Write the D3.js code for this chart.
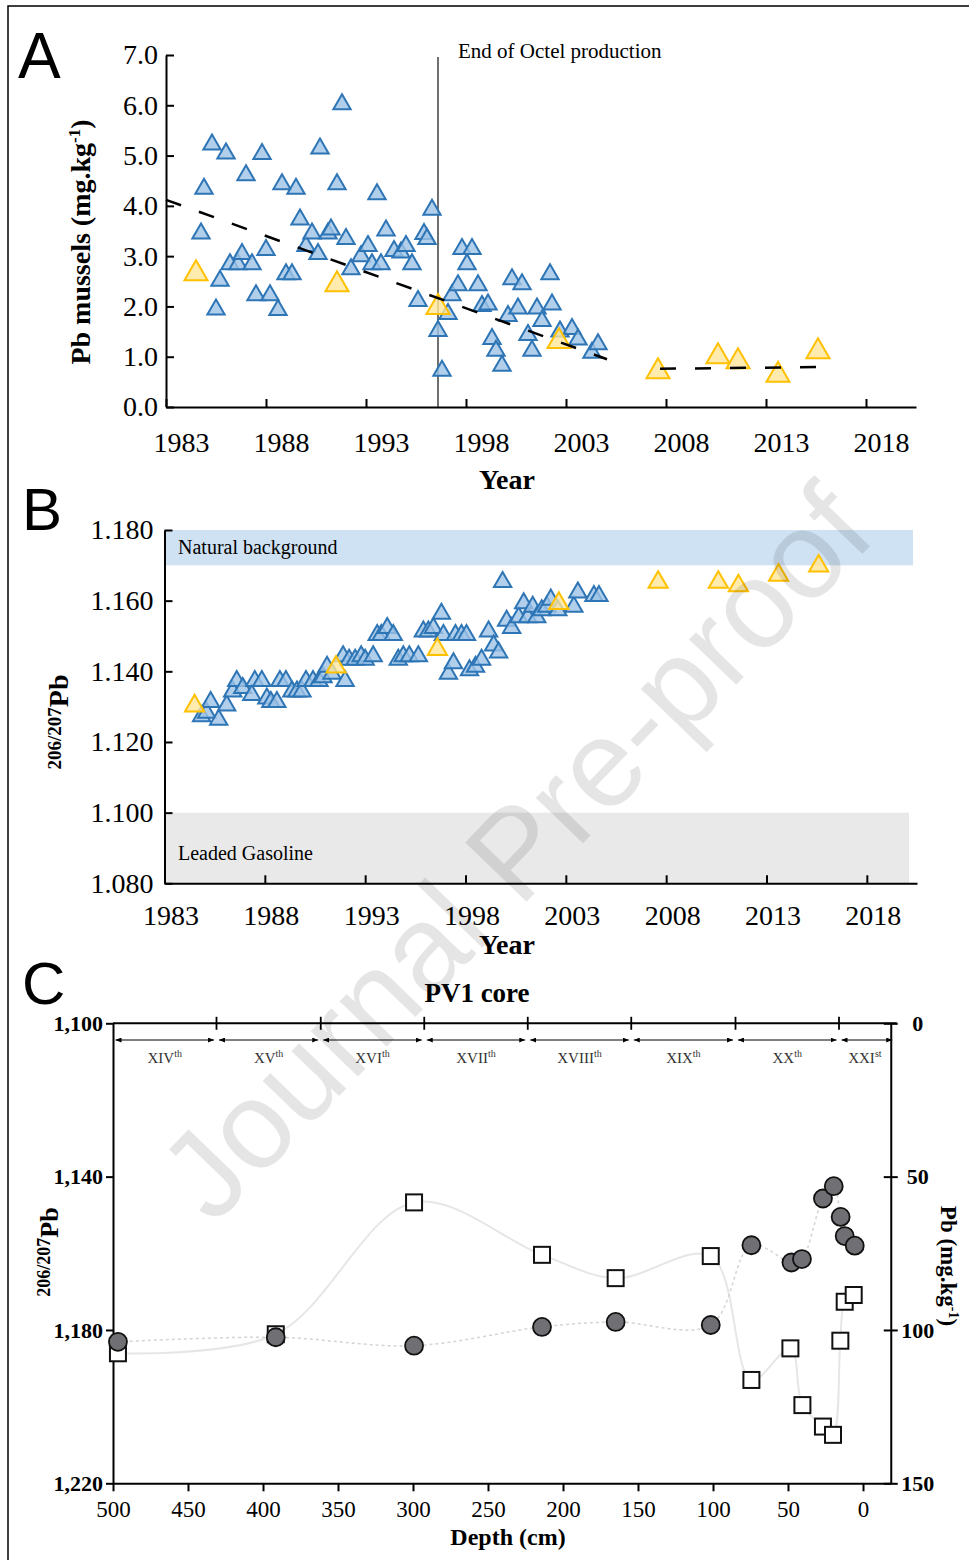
<!DOCTYPE html>
<html><head><meta charset="utf-8">
<script src="https://cdn.jsdelivr.net/npm/d3@7"></script>
<style>body{margin:0;background:#fff}</style>
</head><body><svg id="c" width="969" height="1560"></svg>
<script>
// ---------- DATA ----------
// Panel A: Pb in mussels (mg/kg)
const yearsA_blue = [1984.75,1984.9,1985.3,1985.5,1985.7,1986.0,1986.2,1986.6,1986.8,1987.0,
  1987.3,1987.5,1987.8,1988.0,1988.2,1988.6,1988.8,1989.0,1989.3,1989.5,
  1989.7,1990.0,1990.3,1990.6,1990.7,1991.1,1991.25,1991.55,1991.8,1992.0,
  1992.25,1992.75,1993.1,1993.3,1993.55,1993.75,1994.0,1994.4,1994.75,1995.0,
  1995.3,1995.6,1995.9,1996.05,1996.3,1996.6,1996.8,1997.1,1997.3,1997.6,
  1997.8,1998.05,1998.3,1998.6,1998.8,1999.1,1999.3,1999.5,1999.8,2000.1,
  2000.3,2000.6,2000.8,2001.1,2001.3,2001.55,2001.8,2002.2,2002.3,2002.7,
  2003.3,2003.6,2004.3,2004.6];
const pbA_blue = [3.50,4.39,5.27,1.99,2.56,5.09,2.89,2.89,3.09,4.66,
  2.89,2.27,5.08,3.17,2.27,1.98,4.48,2.69,2.69,4.39,
  3.78,3.25,3.50,3.09,5.19,3.50,3.58,4.48,6.07,3.39,
  2.79,3.05,3.25,2.89,4.28,2.89,3.56,3.15,3.12,3.25,
  2.89,2.16,3.49,3.39,3.97,1.56,0.77,1.90,2.27,2.47,
  3.19,2.89,3.19,2.47,2.06,2.09,1.40,1.17,0.87,1.86,
  2.59,2.01,2.49,1.48,1.17,2.01,1.76,2.69,2.09,1.55,
  1.60,1.39,1.13,1.30];
const yearsYellow = [1984.5,1991.55,1996.6,2002.65,2007.6,2010.6,2011.6,2013.6,2015.6];
const pbA_yellow = [2.72,2.50,2.05,1.37,0.77,1.07,0.97,0.70,1.17];
const trend1Years = [1983, 2005.05], trend1Vals = [4.12, 0.95];
const trend2Years = [2007.7, 2015.85], trend2Vals = [0.76, 0.795];
const octelYear = 1996.6;
const yTicksA = [0,1,2,3,4,5,6,7];
const xTicksYear = [1983,1988,1993,1998,2003,2008,2013,2018];

// Panel B: 206/207Pb in mussels
const yearsB_blue = [1984.85,1985.1,1985.3,1985.7,1986.1,1986.4,1986.6,1986.9,1987.35,1987.5,
  1987.85,1988.1,1988.3,1988.6,1988.75,1989.05,1989.35,1989.6,1989.85,1990.05,
  1990.4,1990.7,1990.9,1991.1,1991.35,1991.9,1992.0,1992.2,1992.5,1992.8,
  1993.0,1993.4,1993.6,1993.8,1994.1,1994.4,1994.65,1994.9,1995.2,1995.65,
  1995.9,1996.15,1996.4,1996.8,1996.9,1997.15,1997.4,1997.5,1997.8,1998.05,
  1998.2,1998.5,1998.8,1999.15,1999.4,1999.65,1999.85,2000.05,2000.3,2000.65,
  2000.9,2001.1,2001.35,2001.55,2001.8,2002.05,2002.25,2002.6,2003.4,2003.6,
  2004.4,2004.65];
const ratioB_blue = [1.128,1.129,1.132,1.127,1.131,1.135,1.138,1.136,1.134,1.138,
  1.138,1.133,1.132,1.132,1.138,1.138,1.135,1.135,1.135,1.138,
  1.138,1.138,1.139,1.142,1.140,1.145,1.138,1.144,1.144,1.145,
  1.144,1.145,1.151,1.151,1.153,1.151,1.144,1.145,1.145,1.145,
  1.152,1.152,1.153,1.157,1.151,1.140,1.143,1.151,1.151,1.151,
  1.141,1.142,1.144,1.152,1.148,1.146,1.166,1.155,1.153,1.156,
  1.160,1.156,1.159,1.156,1.158,1.159,1.161,1.158,1.159,1.163,
  1.162,1.162];
const ratioB_yellow = [1.131,1.142,1.147,1.160,1.166,1.166,1.165,1.168,1.1706];
const yTicksB = [1.08,1.10,1.12,1.14,1.16,1.18];
const bands = [
  {name:"Natural background", lo:1.17, hi:1.18, end:2020.3, color:"#cfe2f3"},
  {name:"Leaded Gasoline", lo:1.08, hi:1.10, end:2020.1, color:"#e9e9e9"}
];

// Panel C: PV1 core
const circleDepth = [496.7,391.5,299.3,214,164.9,101.5,74.4,47.7,40.7,26.7,19.5,14.9,12.2,5.5];
const circleRatio = [1.1831,1.1819,1.1841,1.1792,1.1779,1.1787,1.1579,1.1624,1.1615,1.1457,1.1425,1.1505,1.1555,1.1580];
const squareDepth = [496.7,391.5,299.3,214,164.9,101.5,74.4,48.4,40.4,26.7,20,15.1,12.2,6.2];
const squarePb = [107.6,101.4,58.4,75.5,83.1,75.9,116.3,106,124.5,131.5,134.2,103.5,90.8,88.6];
const depthTicks = [500,450,400,350,300,250,200,150,100,50,0];
const ratioTicksC = [1.10,1.14,1.18,1.22];
const pbTicksC = [0,50,100,150];
const centuryBounds = [500,431,361.5,292.5,223.5,154.5,85,16,-18.5];
const centuries = ["XIV","XV","XVI","XVII","XVIII","XIX","XX","XXI"];
const centurySuffix = ["th","th","th","th","th","th","th","st"];

// ---------- DRAW ----------
const SERIF = "'Liberation Serif','Times New Roman',serif";
const SANS = "'Liberation Sans',Arial,sans-serif";
const svg = d3.select("#c");
svg.append("rect").attr("width",969).attr("height",1560).attr("fill","#fff");
svg.append("path").attr("d","M8,1560V6H969").attr("fill","none").attr("stroke","#000").attr("stroke-width",1.5);

const BLUE_S="#2e75b6", BLUE_F="#9dc3e6", YEL_S="#ffc000", YEL_F="#ffe699";
function tri(g, xs, ys, xsc, ysc, size, stroke, fill){
  const a = Math.sqrt(size/(3*Math.sqrt(3)));
  const sym = d3.symbol().type(d3.symbolTriangle).size(size);
  g.selectAll(null).data(xs.map((x,i)=>[x,ys[i]])).enter().append("path")
    .attr("d", sym)
    .attr("transform", d=>`translate(${xsc(d[0])},${ysc(d[1])+a/2})`)
    .attr("fill", fill).attr("fill-opacity",0.8)
    .attr("stroke", stroke).attr("stroke-width",2).attr("stroke-linejoin","miter");
}
function styleAxis(g, size, bold){
  g.select(".domain").attr("stroke","#000").attr("stroke-width",2);
  g.selectAll(".tick line").attr("stroke","#000").attr("stroke-width",2);
  g.selectAll("text").attr("font-family",SERIF).attr("font-size",size).attr("fill","#000")
    .attr("font-weight", bold?"bold":"normal");
}

// ---- Panel A ----
const xA = d3.scaleLinear().domain([1983,2020.5]).range([166,916]);
const yA = d3.scaleLinear().domain([0,7]).range([407,55]);
const gA = svg.append("g");
const axAy = gA.append("g").attr("transform",`translate(${xA(1983)},0)`)
  .call(d3.axisLeft(yA).tickValues(yTicksA).tickFormat(d3.format(".1f")).tickSize(-8).tickSizeOuter(0).tickPadding(8));
styleAxis(axAy,28,false);
const axAx = gA.append("g").attr("transform",`translate(0,${yA(0)})`)
  .call(d3.axisBottom(xA).tickValues(xTicksYear).tickFormat(d3.format("d")).tickSize(-8).tickSizeOuter(0).tickPadding(25));
styleAxis(axAx,28,false);
axAx.selectAll("text").attr("dx",15);
gA.append("line").attr("x1",xA(octelYear)).attr("x2",xA(octelYear)).attr("y1",yA(7)+2).attr("y2",yA(0))
  .attr("stroke","#222").attr("stroke-width",1.3);
gA.append("text").attr("x",xA(octelYear)+20).attr("y",58).attr("font-family",SERIF).attr("font-size",21)
  .text("End of Octel production");
tri(gA, yearsA_blue, pbA_blue, xA, yA, 130, BLUE_S, BLUE_F);
tri(gA, yearsYellow, pbA_yellow, xA, yA, 230, YEL_S, YEL_F);
const lineA = d3.line().x(d=>xA(d[0])).y(d=>yA(d[1]));
[[trend1Years,trend1Vals],[trend2Years,trend2Vals]].forEach(([ys,vs])=>{
  gA.append("path").attr("d", lineA(ys.map((y,i)=>[y,vs[i]])))
    .attr("fill","none").attr("stroke","#000").attr("stroke-width",2.5).attr("stroke-dasharray","16,19");
});
const labA = gA.append("text").attr("transform","translate(90,242) rotate(-90)").attr("text-anchor","middle")
  .attr("font-family",SERIF).attr("font-size",28).attr("font-weight","bold");
labA.append("tspan").text("Pb mussels (mg.kg");
labA.append("tspan").attr("font-size",17).attr("dy",-10).text("-1");
labA.append("tspan").attr("dy",10).text(")");
gA.append("text").attr("x",507).attr("y",489).attr("text-anchor","middle").attr("font-family",SERIF)
  .attr("font-size",28).attr("font-weight","bold").text("Year");
svg.append("text").attr("x",18).attr("y",78).attr("font-family",SANS).attr("font-size",64).text("A");

// ---- Panel B ----
const xB = d3.scaleLinear().domain([1983,2020.5]).range([164.5,917]);
const yB = d3.scaleLinear().domain([1.08,1.18]).range([883.3,530]);
const gB = svg.append("g");
bands.forEach(b=>{
  gB.append("rect").attr("x",xB(1983)).attr("y",yB(b.hi)).attr("width",xB(b.end)-xB(1983))
    .attr("height",yB(b.lo)-yB(b.hi)).attr("fill",b.color);
});
gB.append("text").attr("x",178).attr("y",554).attr("font-family",SERIF).attr("font-size",20).text(bands[0].name);
gB.append("text").attr("x",178).attr("y",860).attr("font-family",SERIF).attr("font-size",20).text(bands[1].name);
const axBy = gB.append("g").attr("transform",`translate(${xB(1983)},0)`)
  .call(d3.axisLeft(yB).tickValues(yTicksB).tickFormat(d3.format(".3f")).tickSize(-8).tickSizeOuter(0).tickPadding(11));
styleAxis(axBy,28,false);
const axBx = gB.append("g").attr("transform",`translate(0,${yB(1.08)})`)
  .call(d3.axisBottom(xB).tickValues(xTicksYear).tickFormat(d3.format("d")).tickSize(-8).tickSizeOuter(0).tickPadding(22));
styleAxis(axBx,28,false);
axBx.selectAll("text").attr("dx",6);
tri(gB, yearsB_blue, ratioB_blue, xB, yB, 130, BLUE_S, BLUE_F);
tri(gB, yearsYellow, ratioB_yellow, xB, yB, 160, YEL_S, YEL_F);
const labB = gB.append("text").attr("transform","translate(68,722) rotate(-90)").attr("text-anchor","middle")
  .attr("font-family",SERIF).attr("font-weight","bold");
labB.append("tspan").attr("font-size",19).attr("dy",-7).text("206/207");
labB.append("tspan").attr("font-size",28).attr("dy",7).text("Pb");
gB.append("text").attr("x",507).attr("y",954).attr("text-anchor","middle").attr("font-family",SERIF)
  .attr("font-size",28).attr("font-weight","bold").text("Year");
svg.append("text").attr("x",22).attr("y",530).attr("font-family",SANS).attr("font-size",60).text("B");

// ---- Panel C ----
const xC = d3.scaleLinear().domain([500,-18.5]).range([113,890.75]);
const yC = d3.scaleLinear().domain([1.10,1.22]).range([1023.3,1483.3]);
const yPb = d3.scaleLinear().domain([0,150]).range([1023.3,1483.3]);
const gC = svg.append("g");
const commaFmt = v=>d3.format(".3f")(v).replace(".",",");
const axCx = gC.append("g").attr("transform",`translate(0,${yC(1.22)})`)
  .call(d3.axisBottom(xC).tickValues(depthTicks).tickSize(8).tickSizeOuter(0).tickPadding(9));
styleAxis(axCx,23,false);
const axCy = gC.append("g").attr("transform",`translate(${xC(500)},0)`)
  .call(d3.axisLeft(yC).tickValues(ratioTicksC).tickFormat(commaFmt).tickSize(7).tickSizeOuter(0).tickPadding(3));
styleAxis(axCy,22,true);
const axCr = gC.append("g").attr("transform",`translate(${xC(-18.5)},0)`)
  .call(d3.axisRight(yPb).tickValues(pbTicksC).tickSize(7).tickSizeOuter(0).tickPadding(20));
styleAxis(axCr,22,true);
axCr.selectAll(".tick line").attr("x1",-7);
axCr.selectAll("text").attr("text-anchor","middle").attr("x",27);
// top line
gC.append("line").attr("x1",xC(500)).attr("x2",xC(-18.5)+6).attr("y1",yC(1.10)).attr("y2",yC(1.10))
  .attr("stroke","#000").attr("stroke-width",2);
gC.selectAll(null).data(centuryBounds.slice(1,-1)).enter().append("line")
  .attr("x1",d=>xC(d)).attr("x2",d=>xC(d)).attr("y1",yC(1.10)-6.5).attr("y2",yC(1.10)+6.5)
  .attr("stroke","#000").attr("stroke-width",1.8);
const defs = svg.append("defs");
defs.append("marker").attr("id","ah").attr("viewBox","0 0 6 5").attr("refX",6).attr("refY",2.5)
  .attr("markerWidth",6).attr("markerHeight",5).attr("markerUnits","userSpaceOnUse")
  .attr("orient","auto-start-reverse").append("path").attr("d","M0,0L6,2.5L0,5z").attr("fill","#000");
centuries.forEach((c,i)=>{
  const x1 = xC(centuryBounds[i])+2.5, x2 = xC(centuryBounds[i+1])-2.5 + (i===centuries.length-1?4:0);
  gC.append("line").attr("x1",x1).attr("x2",x2).attr("y1",1040).attr("y2",1040)
    .attr("stroke","#000").attr("stroke-width",1).attr("marker-start","url(#ah)").attr("marker-end","url(#ah)");
  const t = gC.append("text").attr("x",(xC(centuryBounds[i])+xC(centuryBounds[i+1]))/2).attr("y",1063)
    .attr("text-anchor","middle").attr("font-family",SERIF).attr("font-size",15).attr("fill","#333");
  t.append("tspan").text(c);
  t.append("tspan").attr("font-size",10).attr("dy",-6).text(centurySuffix[i]);
});
gC.append("text").attr("x",477).attr("y",1002).attr("text-anchor","middle").attr("font-family",SERIF)
  .attr("font-size",27).attr("font-weight","bold").text("PV1 core");
// connecting lines
const sqLine = d3.line().curve(d3.curveCatmullRom).x(d=>xC(d[0])).y(d=>yPb(d[1]));
gC.append("path").attr("d", sqLine(squareDepth.map((d,i)=>[d,squarePb[i]])))
  .attr("fill","none").attr("stroke","#e6e6e6").attr("stroke-width",2);
const ciLine = d3.line().curve(d3.curveCatmullRom).x(d=>xC(d[0])).y(d=>yC(d[1]));
gC.append("path").attr("d", ciLine(circleDepth.map((d,i)=>[d,circleRatio[i]])))
  .attr("fill","none").attr("stroke","#d4d4d4").attr("stroke-width",1.5).attr("stroke-dasharray","3,3");
gC.selectAll(null).data(squareDepth.map((d,i)=>[d,squarePb[i]])).enter().append("rect")
  .attr("x",d=>xC(d[0])-8).attr("y",d=>yPb(d[1])-8).attr("width",16).attr("height",16)
  .attr("fill","#fff").attr("stroke","#111").attr("stroke-width",2);
gC.selectAll(null).data(circleDepth.map((d,i)=>[d,circleRatio[i]])).enter().append("circle")
  .attr("cx",d=>xC(d[0])).attr("cy",d=>yC(d[1])).attr("r",9)
  .attr("fill","#6f6f74").attr("stroke","#111").attr("stroke-width",1.8);
const labC = gC.append("text").attr("transform","translate(58,1252) rotate(-90)").attr("text-anchor","middle")
  .attr("font-family",SERIF).attr("font-weight","bold");
labC.append("tspan").attr("font-size",18).attr("dy",-8).text("206/207");
labC.append("tspan").attr("font-size",26).attr("dy",8).text("Pb");
const labCr = gC.append("text").attr("transform","translate(941,1266) rotate(90)").attr("text-anchor","middle")
  .attr("font-family",SERIF).attr("font-weight","bold").attr("font-size",23);
labCr.append("tspan").text("Pb (mg.kg");
labCr.append("tspan").attr("font-size",14).attr("dy",-8).text("-1");
labCr.append("tspan").attr("dy",8).text(")");
gC.append("text").attr("x",508).attr("y",1545).attr("text-anchor","middle").attr("font-family",SERIF)
  .attr("font-size",24).attr("font-weight","bold").text("Depth (cm)");
svg.append("text").attr("x",22).attr("y",1004).attr("font-family",SANS).attr("font-size",60).text("C");

// watermark
svg.append("text").attr("transform","translate(515,852) rotate(-46)").attr("text-anchor","middle")
  .attr("dominant-baseline","central").attr("font-family",SANS).attr("font-size",124)
  .attr("fill","#000").attr("fill-opacity",0.1).text("Journal Pre-proof");
</script></body></html>
